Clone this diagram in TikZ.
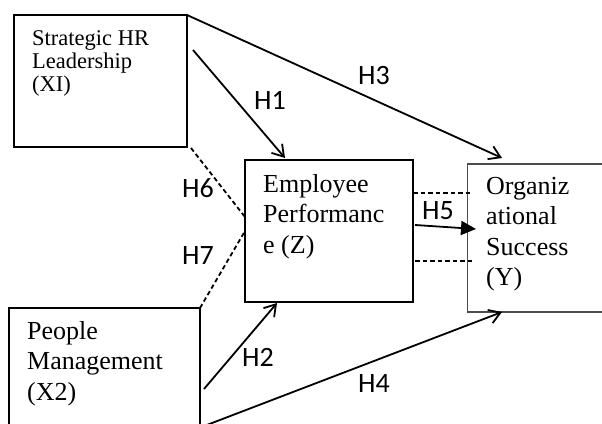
\documentclass[tikz,border=0pt]{standalone}
\usepackage{fontspec}
\setmainfont{Liberation Serif}
\newfontfamily\hypfont{Carlito}
\usetikzlibrary{arrows.meta,positioning,calc}

\tikzset{
  varbox/.style={draw, line width=1.3pt, inner sep=0pt, outer sep=0pt, anchor=north west},
  vartext/.style={anchor=north west, inner sep=0pt, align=left,
    font=\fontsize{26}{30.5}\selectfont},
  hyp/.style={font=\hypfont\fontsize{28}{30}\selectfont, inner sep=0pt},
  link/.style={line width=1.8pt, -{Straight Barb[length=11pt,width=14pt,line width=1.8pt]}},
  dashlink/.style={line width=1.8pt, dash pattern=on 4.5pt off 3pt},
}

\begin{document}
\begin{tikzpicture}[x=1pt,y=-1pt]
    \useasboundingbox (0,0) rectangle (602,423);

    % Variables
    \node[varbox, minimum width=173pt, minimum height=132pt] (xi) at (14,15) {};
    \node[varbox, minimum width=191pt, minimum height=130pt] (x2) at (9,308) {};
    \node[varbox, minimum width=168pt, minimum height=142pt] (z) at (245,160) {};
    \node[varbox, draw=black!70, minimum width=150pt, minimum height=148pt] (y) at (467.5,164) {};

    \node[vartext, font=\fontsize{22.5}{23.3}\selectfont] (xitext) at (32,30) {Strategic HR\\Leadership\\(XI)};
    \node[vartext] (x2text) at (27,321) {People\\Management\\(X2)};
    \node[vartext] (ztext) at (263,174) {Employee\\Performanc\\e (Z)};
    \node[vartext] (ytext) at (486,177) {Organiz\\ational\\Success\\(Y)};

    % Free ends
    \coordinate (h1s) at ($(xi.east)+(6,-31)$);
    \coordinate (h6s) at ($(xi.south east)+(4,1)$);
    \coordinate (h2s) at ($(x2.east)+(4,16)$);
    \coordinate (h4s) at (200,427.6);

    % Hypotheses
    \draw[link] (xi.north east) -- ($(y.north west)+(34.5,-6)$);
    \draw[link] (h1s) -- ($(z.north west)+(40,-2)$);
    \draw[link] (h2s) -- ($(z.south west)+(32,1)$);
    \draw[link] (h4s) -- ($(y.south west)+(34.5,0)$);
    \draw[line width=1.8pt, -{Triangle[length=15pt,width=14pt]}]
        ($(z.east)+(2,-6)$) -- ($(y.west)+(8.5,-9)$);
    \draw[dashlink] (h6s) -- ($(z.west)+(0,-14)$);
    \draw[dashlink] (x2.north east) -- (z.west);
    \draw[dashlink] ($(z.east)+(0,-38)$) -- ($(y.west)+(3.5,-45)$);
    \draw[dashlink] ($(z.east)+(2,30)$) -- ($(y.west)+(7.5,23)$);

    % Labels
    \node[hyp] (h1) at (270,100) {H1};
    \node[hyp] (h2) at (258,357) {H2};
    \node[hyp] (h3) at (374,76) {H3};
    \node[hyp] (h4) at (374,384) {H4};
    \node[hyp] (h5) at (438,211) {H5};
    \node[hyp] (h6) at (198,188) {H6};
    \node[hyp] (h7) at (198,256) {H7};
\end{tikzpicture}
\end{document}
